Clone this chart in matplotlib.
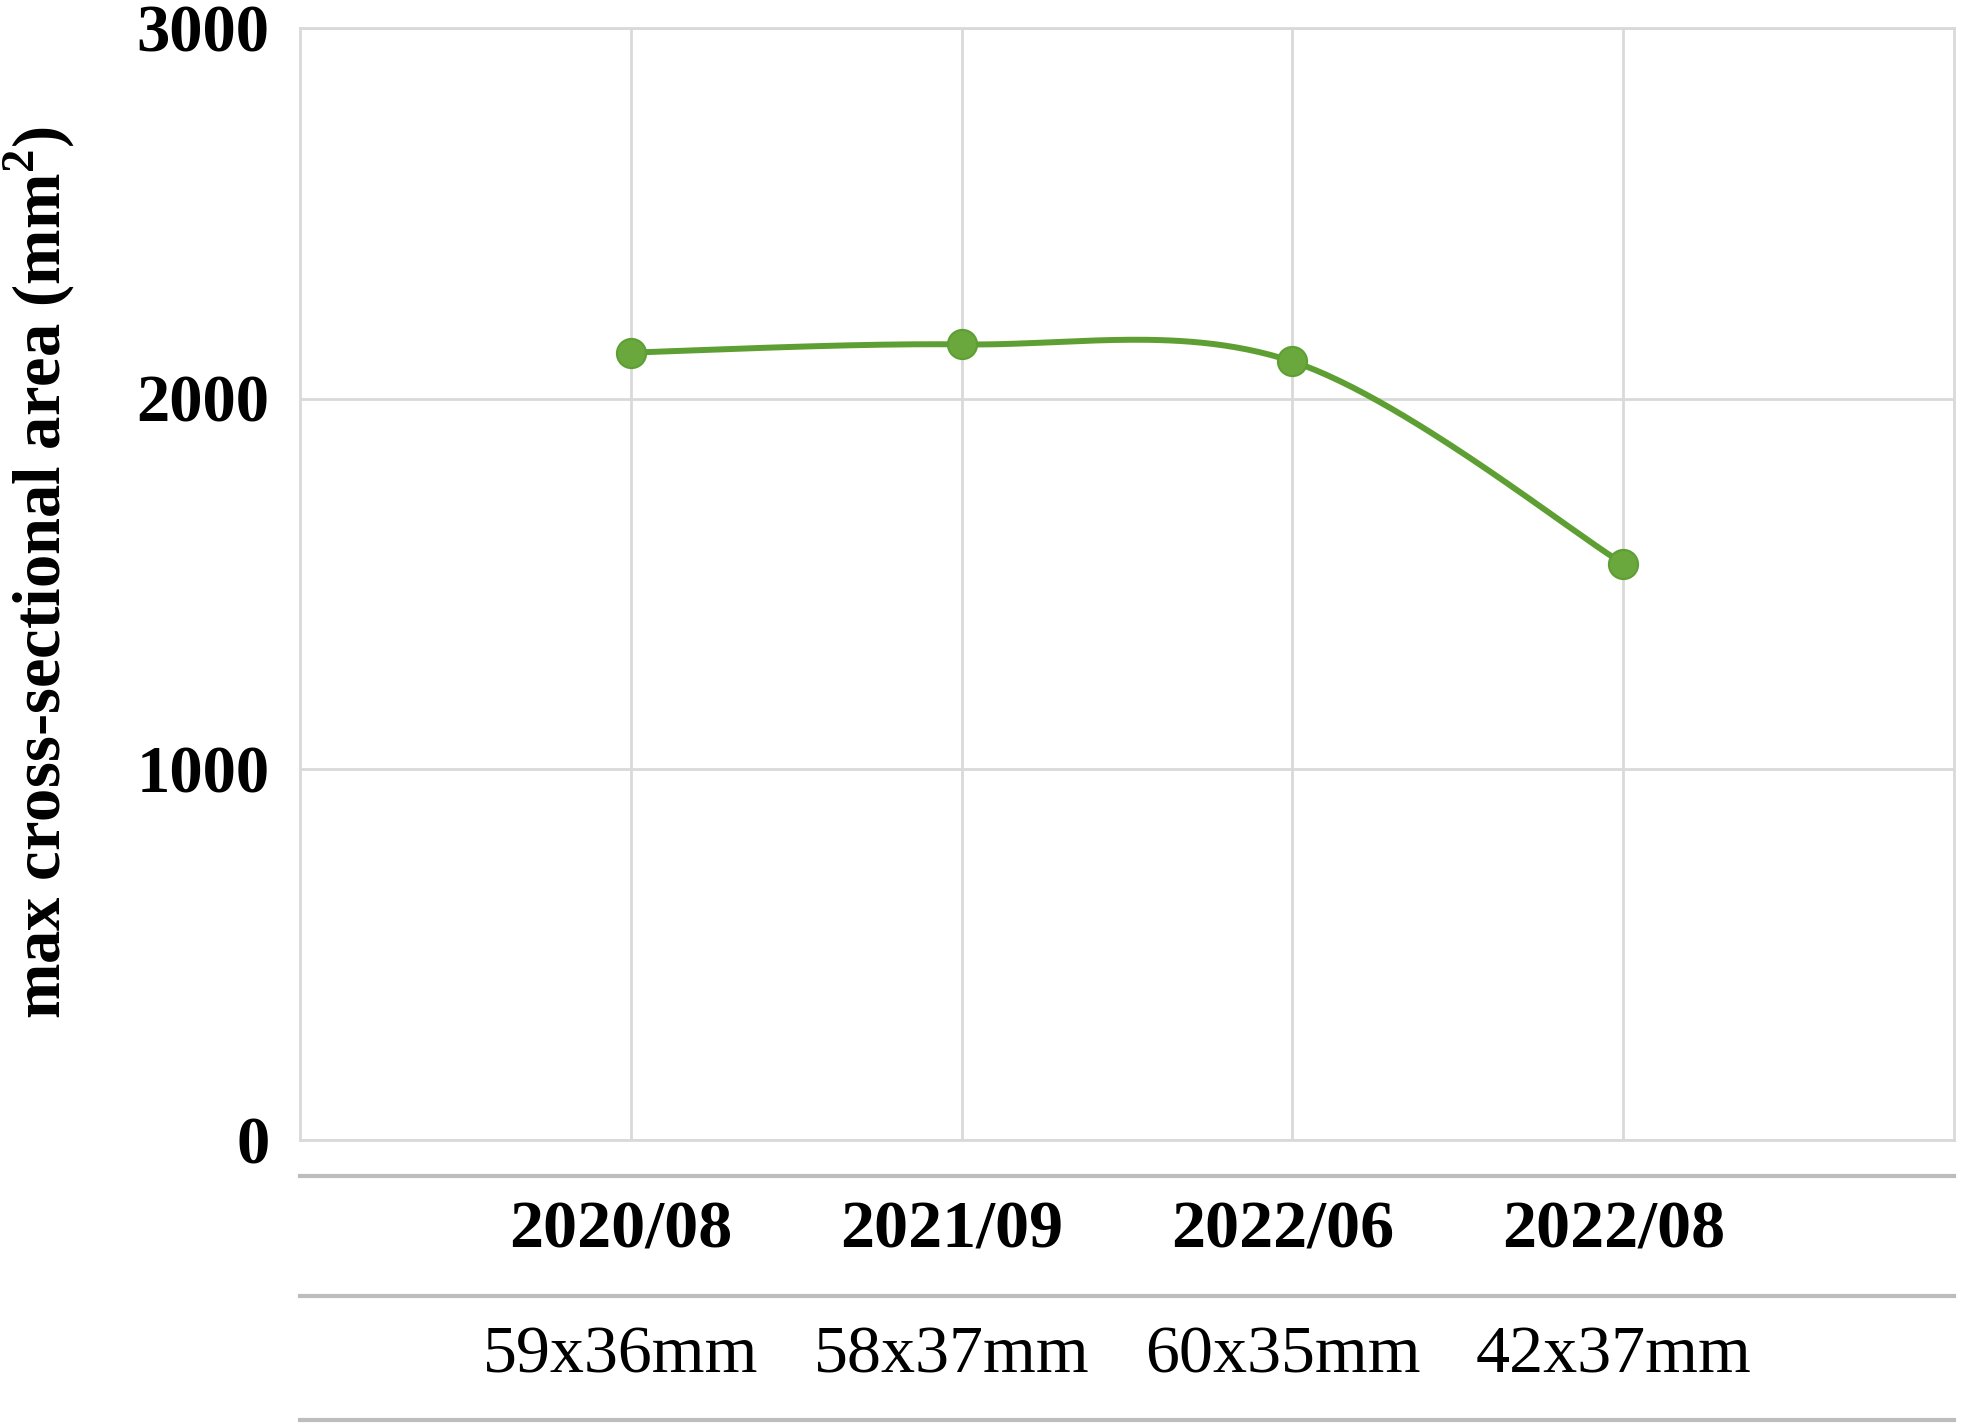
import numpy as np
import matplotlib
matplotlib.use("Agg")
import matplotlib.pyplot as plt
from matplotlib.transforms import blended_transform_factory

# ---- data ----
dates = ['2020/08', '2021/09', '2022/06', '2022/08']
dims = ['59x36mm', '58x37mm', '60x35mm', '42x37mm']
areas = [2124, 2146, 2100, 1554]
yticks = [0, 1000, 2000, 3000]

SERIF = ['Liberation Serif', 'DejaVu Serif']
LINE_C = '#5e9f33'
FACE_C = '#6aa83e'
GRID_C = '#d9d9d9'
TABLE_C = '#bdbdbd'

plt.rcParams['mathtext.fontset'] = 'custom'
plt.rcParams['mathtext.rm'] = 'Liberation Serif:bold'
plt.rcParams['mathtext.bf'] = 'Liberation Serif:bold'

W, H = 1983, 1428
fig = plt.figure(figsize=(W / 100, H / 100), dpi=100)
ax = fig.add_axes([300 / W, 1 - 1139.5 / H, 1654 / W, 1111.5 / H])

x = np.arange(1, len(areas) + 1, dtype=float)
y = np.array(areas, dtype=float)


def excel_smooth(xs, ys, n=60):
    px = np.concatenate([[xs[0]], xs, [xs[-1]]])
    py = np.concatenate([[ys[0]], ys, [ys[-1]]])
    outx, outy = [], []
    t = np.linspace(0, 1, n)
    for i in range(1, len(px) - 2):
        p0 = np.array([px[i], py[i]])
        p3 = np.array([px[i + 1], py[i + 1]])
        c1 = p0 + (np.array([px[i + 1], py[i + 1]]) - np.array([px[i - 1], py[i - 1]])) / 6
        c2 = p3 - (np.array([px[i + 2], py[i + 2]]) - np.array([px[i], py[i]])) / 6
        b = ((1 - t) ** 3)[:, None] * p0 + (3 * (1 - t) ** 2 * t)[:, None] * c1 \
            + (3 * (1 - t) * t ** 2)[:, None] * c2 + (t ** 3)[:, None] * p3
        outx.extend(b[:, 0])
        outy.extend(b[:, 1])
    return np.array(outx), np.array(outy)


sx, sy = excel_smooth(x, y)
ax.plot(sx, sy, color=LINE_C, lw=4.3, solid_capstyle='round', zorder=3)
ax.plot(x, y, 'o', ms=21, mfc=FACE_C, mec=LINE_C, mew=1.5, zorder=4)

ax.set_xlim(0, len(areas) + 1)
ax.set_ylim(0, 3000)
ax.set_xticks(x)
ax.set_xticklabels([])
ax.set_yticks(yticks)
ax.set_yticklabels([str(v) for v in yticks], fontfamily=SERIF, fontweight='bold', fontsize=48)
ax.tick_params(axis='both', length=0, pad=22)
ax.grid(True, color=GRID_C, lw=2)
for s in ax.spines.values():
    s.set_color(GRID_C)
    s.set_linewidth(2)

ax.set_ylabel(r'max cross-sectional area (mm$^{\mathbf{2}}$)', fontfamily=SERIF,
              fontweight='bold', fontsize=48)
ax.yaxis.set_label_coords(-0.135, 0.51)

# ---- table beneath ----
for yy in [1176, 1296, 1420]:
    fig.add_artist(plt.Line2D([300 / W, 1954 / W], [1 - yy / H, 1 - yy / H],
                              color=TABLE_C, lw=3, transform=fig.transFigure))

tr = blended_transform_factory(ax.transData, fig.transFigure)
for xi, d, m in zip(x, dates, dims):
    ax.text(xi - 0.03, 1 - 1231 / H, d, transform=tr, ha='center', va='center',
            fontfamily=SERIF, fontweight='bold', fontsize=49, clip_on=False)
    ax.text(xi - 0.03, 1 - 1356 / H, m, transform=tr, ha='center', va='center',
            fontfamily=SERIF, fontsize=49, clip_on=False)

fig.savefig('out.png', dpi=100, facecolor='white')
